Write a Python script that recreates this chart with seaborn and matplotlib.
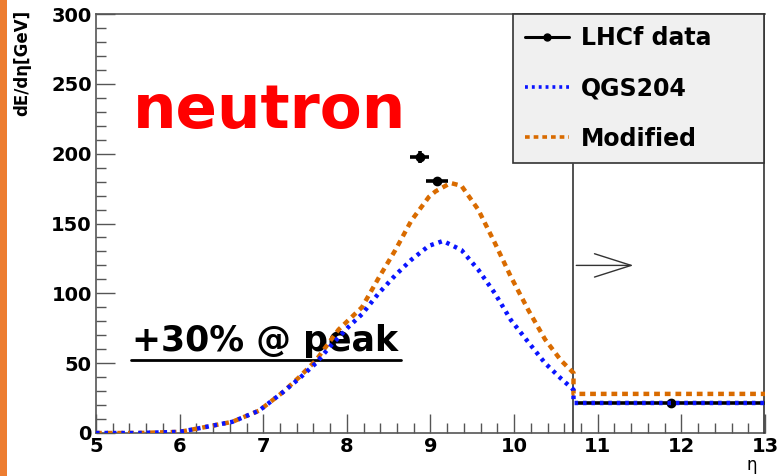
import numpy as np
import pandas as pd
import matplotlib
matplotlib.use("Agg")
import matplotlib.pyplot as plt
import seaborn as sns
from matplotlib.lines import Line2D
from matplotlib.patches import Rectangle

# ---- data ----
qgs_eta = [5.0, 5.5, 6.0, 6.24, 6.63, 6.95, 7.23, 7.43, 7.63, 7.8, 8.02, 8.18, 8.38, 8.58,
           8.77, 8.98, 9.15, 9.37, 9.57, 9.77, 9.96, 10.17, 10.37, 10.56, 10.71, 10.71, 13.0]
qgs_val = [0.0, 0.0, 0.8, 3.5, 8, 16, 29, 39, 50, 62, 76, 85, 100, 113,
           124, 134, 137.5, 131, 117, 100, 81, 65, 50, 39, 31, 21.5, 21.5]
mod_eta = [5.0, 5.5, 6.0, 6.24, 6.63, 6.95, 7.23, 7.43, 7.63, 7.9, 8.18, 8.38, 8.58, 8.77,
           8.98, 9.06, 9.24, 9.37, 9.57, 9.77, 9.96, 10.17, 10.37, 10.56, 10.71, 10.71, 13.0]
mod_val = [0.0, 0.0, 0.8, 3.5, 8, 16, 29, 40, 52, 74, 90, 111, 131, 152,
           169, 173, 179, 177, 160, 136, 112, 88, 67, 52, 43, 28, 28]
lhcf_eta = [8.87, 9.08, 11.88]
lhcf_val = [197.6, 180.4, 21.5]
lhcf_xerr = [0.11, 0.135, 1.12]
lhcf_yerr = [4.0, 2.0, 0.5]
x_ticks = [5, 6, 7, 8, 9, 10, 11, 12, 13]
y_ticks = [0, 50, 100, 150, 200, 250, 300]

sns.set_theme(style="white")
plt.rcParams['font.family'] = ['DejaVu Sans']
plt.rcParams['text.color'] = 'black'
plt.rcParams['xtick.labelcolor'] = 'black'
plt.rcParams['ytick.labelcolor'] = 'black'

BOLD = ['DejaVu Sans']
fig = plt.figure(figsize=(7.77, 4.76), dpi=100)
ax = fig.add_axes([96/777, 43/476, 669/777, 419/476])

df_q = pd.DataFrame({"eta": qgs_eta, "val": qgs_val})
df_m = pd.DataFrame({"eta": mod_eta, "val": mod_val})
ax.errorbar(lhcf_eta, lhcf_val, xerr=lhcf_xerr, yerr=lhcf_yerr, fmt='o', color='black',
            ms=6, elinewidth=2.6, capsize=0, zorder=3)
sns.lineplot(data=df_m, x="eta", y="val", ax=ax, color="#d96b00", lw=3.2,
             linestyle=(0, (1.3, 1.1)), sort=False, estimator=None, zorder=4)
sns.lineplot(data=df_q, x="eta", y="val", ax=ax, color="#0a14ff", lw=3.2,
             linestyle=(0, (0.8, 1.1)), sort=False, estimator=None, zorder=4)

ax.set_xlim(5, 13)
ax.set_ylim(0, 300)
ax.set_xticks(x_ticks)
ax.set_yticks(y_ticks)
ax.set_xticks(np.arange(5, 13.01, 0.2), minor=True)
ax.set_yticks(np.arange(0, 301, 10), minor=True)
ax.tick_params(axis='both', which='both', bottom=True, left=True, top=False, right=False)
ax.tick_params(axis='both', which='major', direction='in', length=13.5, width=1.0,
               color='#555555', labelsize=14, pad=3, labelcolor='black')
ax.tick_params(axis='both', which='minor', direction='in', length=7, width=1.0,
               color='#555555')
for lab in ax.get_xticklabels() + ax.get_yticklabels():
    lab.set_fontweight('bold')
for s in ax.spines.values():
    s.set_color('#555555')
    s.set_linewidth(1.2)
ax.spines['right'].set_visible(False)
ax.set_xlabel("")
ax.set_ylabel("")

# axis titles
fig.text(22/777, 1 - 10/476, "dE/dη[GeV]", rotation=90, ha='center', va='top',
         fontsize=12, fontweight='bold', family=BOLD)
fig.text(752/777, 1 - 465/476, "η", ha='center', va='center', fontsize=12,
         family=['DejaVu Sans'])

# box below legend and arrow
ax.plot([10.71, 10.71], [0, 192.5], color='#333333', lw=1.2, zorder=3)
ax.plot([12.99, 12.99], [0, 300], color='#333333', lw=1.2, zorder=3, clip_on=False)
ax.annotate("", xy=(11.46, 120), xytext=(10.71, 120),
            arrowprops=dict(arrowstyle='->,head_length=2.2,head_width=0.7', color='#333333', lw=1.0))

# legend
handles = [Line2D([0], [0], color='black', lw=2.2, marker='o', ms=5),
           Line2D([0], [0], color='#0a14ff', lw=2.6, linestyle=(0, (0.8, 1.1))),
           Line2D([0], [0], color='#d96b00', lw=2.6, linestyle=(0, (1.3, 1.1)))]
leg = ax.legend(handles, ["LHCf data", "QGS204", "Modified"], loc='upper left',
                bbox_to_anchor=(0.623, 0.642, 0.3755, 0.358), mode='expand',
                prop={'weight': 'bold', 'size': 17, 'family': BOLD},
                fancybox=False, framealpha=1, facecolor='#f0f0f0', edgecolor='#333333',
                borderpad=0.5, labelspacing=1.12, handlelength=1.9, handletextpad=0.47,
                borderaxespad=0)
leg.get_frame().set_linewidth(1.2)
leg.set_zorder(6)

# annotations
ax.text(0.055, 0.728, "neutron", transform=ax.transAxes, color='#ff0000', fontsize=44,
        fontweight='bold', family=BOLD, ha='left', va='baseline')
ax.text(0.054, 0.195, "+30% @ peak", transform=ax.transAxes, color='black', fontsize=25,
        fontweight='bold', family=BOLD, ha='left', va='baseline')
ax.plot([0.052, 0.456], [0.174, 0.174], transform=ax.transAxes, color='black', lw=2.0)

# left orange stripe
fig.patches.append(Rectangle((0, 0), 7/777, 1, transform=fig.transFigure,
                             facecolor='#ed7d31', edgecolor='none'))

fig.savefig("out.png", dpi=100)
